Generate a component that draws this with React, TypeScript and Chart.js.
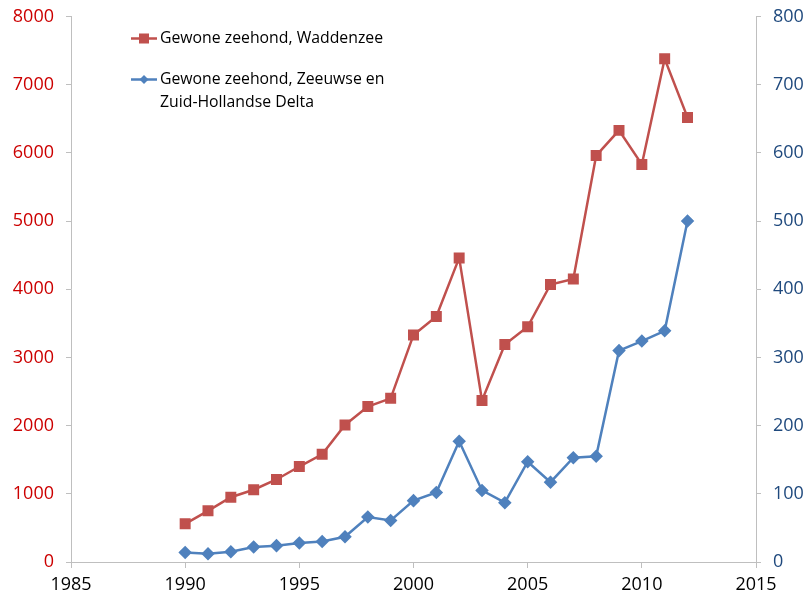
import React, { useEffect, useRef } from "react";
import { Chart, registerables } from "chart.js";

Chart.register(...registerables);

const years = [1990, 1991, 1992, 1993, 1994, 1995, 1996, 1997, 1998, 1999, 2000, 2001, 2002, 2003, 2004, 2005, 2006, 2007, 2008, 2009, 2010, 2011, 2012];
const waddenzee = [560, 750, 950, 1060, 1210, 1400, 1580, 2010, 2280, 2400, 3330, 3600, 4460, 2370, 3190, 3450, 4070, 4150, 5960, 6330, 5830, 7380, 6520];
const delta = [14, 12, 15, 22, 24, 28, 30, 37, 66, 61, 90, 102, 177, 105, 87, 147, 117, 153, 155, 310, 324, 339, 500];
const legendLines = [["Gewone zeehond, Waddenzee"], ["Gewone zeehond, Zeeuwse en", "Zuid-Hollandse Delta"]];

const RED = "#C0504D";
const BLUE = "#4F81BD";
const FONT = "'Open Sans', 'Noto Sans', sans-serif";

const legendPlugin = {
  id: "insideLegend",
  afterDraw(chart: any) {
    const ctx = chart.ctx;
    const area = chart.chartArea;
    const lineX0 = area.left + 60;
    const lineX1 = area.left + 86;
    const textX = area.left + 89;
    const ys = [area.top + 22, area.top + 63];
    ctx.save();
    chart.data.datasets.forEach((ds: any, i: number) => {
      const y = ys[i];
      ctx.strokeStyle = ds.borderColor;
      ctx.lineWidth = 2.5;
      ctx.beginPath();
      ctx.moveTo(lineX0, y);
      ctx.lineTo(lineX1, y);
      ctx.stroke();
      ctx.fillStyle = ds.pointBackgroundColor;
      const mx = (lineX0 + lineX1) / 2;
      if (ds.pointStyle === "rect") {
        ctx.fillRect(mx - 5, y - 5, 10, 10);
      } else {
        ctx.beginPath();
        ctx.moveTo(mx, y - 4.5);
        ctx.lineTo(mx + 4.5, y);
        ctx.lineTo(mx, y + 4.5);
        ctx.lineTo(mx - 4.5, y);
        ctx.closePath();
        ctx.fill();
      }
      ctx.fillStyle = "#000";
      ctx.font = `15.8px ${FONT}`;
      ctx.textBaseline = "middle";
      ctx.textAlign = "left";
      legendLines[i].forEach((t, k) => ctx.fillText(t, textX, y + k * 23));
    });
    ctx.restore();
  },
};

export default function App() {
  const ref = useRef<HTMLCanvasElement | null>(null);
  useEffect(() => {
    if (!ref.current) return;
    const chart = new Chart(ref.current, {
      type: "line",
      data: {
        datasets: [
          {
            label: legendLines[0].join(" "),
            data: years.map((y, i) => ({ x: y, y: waddenzee[i] })),
            borderColor: RED,
            backgroundColor: RED,
            pointBackgroundColor: RED,
            pointBorderColor: RED,
            pointStyle: "rect",
            pointRadius: 6,
            borderWidth: 2.5,
            yAxisID: "y",
          },
          {
            label: legendLines[1].join(" "),
            data: years.map((y, i) => ({ x: y, y: delta[i] })),
            borderColor: BLUE,
            backgroundColor: BLUE,
            pointBackgroundColor: BLUE,
            pointBorderColor: BLUE,
            pointStyle: "rectRot",
            pointRadius: 5,
            borderWidth: 2.5,
            yAxisID: "y2",
          },
        ],
      },
      options: {
        animation: false,
        responsive: false,
        maintainAspectRatio: false,
        layout: { padding: { top: 16, right: 0, left: 0, bottom: 0 } },
        plugins: { legend: { display: false }, tooltip: { enabled: false } },
        scales: {
          x: {
            type: "linear",
            min: 1985,
            max: 2015,
            ticks: { stepSize: 5, color: "#000", font: { family: FONT, size: 18 }, padding: 6, callback: (v: any) => String(v) },
            grid: { drawOnChartArea: false, drawTicks: true, tickLength: 6, color: "#bfbfbf" },
            border: { display: true, color: "#bfbfbf", width: 1 },
            afterFit: (s: any) => { s.height = 39; },
          },
          y: {
            position: "left",
            min: 0,
            max: 8000,
            ticks: { stepSize: 1000, color: "#CC0000", font: { family: FONT, size: 18, lineHeight: 0.5 }, padding: 12, callback: (v: any) => String(v) },
            grid: { drawOnChartArea: false, drawTicks: true, tickLength: 5, color: "#bfbfbf" },
            border: { display: true, color: "#bfbfbf", width: 1 },
            afterFit: (s: any) => { s.width = 71; },
          },
          y2: {
            position: "right",
            min: 0,
            max: 800,
            ticks: { stepSize: 100, color: "#1F497D", font: { family: FONT, size: 18, lineHeight: 0.5 }, padding: 12, callback: (v: any) => String(v) },
            grid: { drawOnChartArea: false, drawTicks: true, tickLength: 5, color: "#bfbfbf" },
            border: { display: true, color: "#bfbfbf", width: 1 },
            afterFit: (s: any) => { s.width = 54; },
          },
        },
      },
      plugins: [legendPlugin],
    } as any);
    return () => chart.destroy();
  }, []);
  return (
    <div style={{ position: "fixed", left: 0, top: 0, width: 810, height: 601, background: "#fff" }}>
      <canvas ref={ref} width={810} height={601} style={{ width: 810, height: 601 }} />
    </div>
  );
}
